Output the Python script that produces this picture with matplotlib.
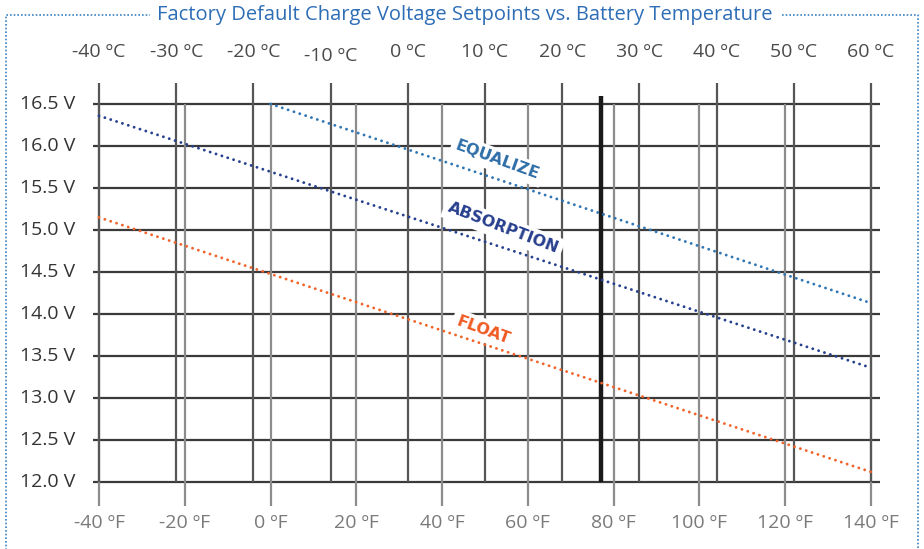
import matplotlib
matplotlib.use('Agg')
import matplotlib.pyplot as plt
import matplotlib.transforms as mtransforms
from matplotlib.lines import Line2D

plt.rcParams['font.family'] = ['Open Sans', 'DejaVu Sans']

title = "Factory Default Charge Voltage Setpoints vs. Battery Temperature"
f_ticks = [-40, -20, 0, 20, 40, 60, 80, 100, 120, 140]
c_ticks = [-40, -30, -20, -10, 0, 10, 20, 30, 40, 50, 60]
v_ticks = [12.0, 12.5, 13.0, 13.5, 14.0, 14.5, 15.0, 15.5, 16.0, 16.5]
ref_temp_f = 77

eq_temp = [0, 140]
eq_volt = [16.5, 14.13]
abs_temp = [-40, 140]
abs_volt = [16.36, 13.36]
float_temp = [-40, 140]
float_volt = [15.15, 12.12]

W, H = 924, 549
fig = plt.figure(figsize=(W / 100, H / 100), dpi=100)
fig.patch.set_facecolor('white')
x0, x1, y0, y1 = 99, 871, 104, 482
ax = fig.add_axes([x0 / W, 1 - y1 / H, (x1 - x0) / W, (y1 - y0) / H])
ax.set_xlim(-40, 140)
ax.set_ylim(12, 16.5)
ax.axis('off')

pxx = 180 / (x1 - x0)
pxy = 4.5 / (y1 - y0)

# grid
ax.hlines(v_ticks, -40 - 6 * pxx, 140 + 9 * pxx, colors='#3a3a3a', lw=1.6,
          clip_on=False, zorder=1)
ax.vlines(f_ticks, 12 - 24 * pxy, 16.5, colors='#8c8c8c', lw=1.6,
          clip_on=False, zorder=1)
c_as_f = [c * 1.8 + 32 for c in c_ticks]
ax.vlines(c_as_f, 12, 16.5 + 21 * pxy, colors='#565656', lw=1.6,
          clip_on=False, zorder=1)
ax.vlines([ref_temp_f], 12, 16.5 + 8 * pxy, colors='#1a1a1a', lw=3.2,
          clip_on=False, zorder=3)

# series
dot = (0, (0.01, 2.1))
ax.plot(eq_temp, eq_volt, color='#2f76b4', lw=2.1, linestyle=dot,
        dash_capstyle='round', zorder=5, clip_on=False)
ax.plot(abs_temp, abs_volt, color='#26408f', lw=2.1, linestyle=dot,
        dash_capstyle='round', zorder=5, clip_on=False)
ax.plot(float_temp, float_volt, color='#f2632a', lw=2.1, linestyle=dot,
        dash_capstyle='round', zorder=5, clip_on=False)

lab_kw = dict(fontsize=11.5, fontweight='bold', family=['DejaVu Sans'],
              ha='center', va='center', zorder=4,
              bbox=dict(facecolor='white', edgecolor='none', pad=3))
ax.text(52.8, 15.83, 'EQUALIZE', color='#2f6ea8', rotation=-20, **lab_kw)
ax.text(54.2, 15.02, 'ABSORPTION', color='#283f8e', rotation=-21, **lab_kw)
ax.text(49.5, 13.81, 'FLOAT', color='#f05a22', rotation=-20, **lab_kw)

# tick labels
tr = mtransforms.blended_transform_factory(ax.transData, fig.transFigure)
for c, f in zip(c_ticks, c_as_f):
    yy = 56 if c == -10 else 52
    ax.text(f, 1 - yy / H, f'{c} ºC', transform=tr, ha='center', va='center',
            fontsize=14, color='#4a4a4a')
for f in f_ticks:
    ax.text(f, 1 - 523 / H, f'{f} ºF', transform=tr, ha='center', va='center',
            fontsize=14, color='#7a7a7a')
trv = mtransforms.blended_transform_factory(fig.transFigure, ax.transData)
for v in v_ticks:
    ax.text(75 / W, v, f'{v:.1f} V', transform=trv, ha='right', va='center',
            fontsize=14, color='#333333')

# title and dotted frame
fig.text(465 / W, 1 - 15 / H, title, ha='center', va='center',
         fontsize=14.5, color='#2d6db5')
bc = '#3b82c4'
def fl(xs, ys):
    fig.add_artist(Line2D([x / W for x in xs], [1 - y / H for y in ys],
                          transform=fig.transFigure, color=bc, lw=1.2,
                          linestyle=(0, (1, 1.2))))
fl([6, 6, 150], [H + 2, 15, 15])
fl([782, 918, 918], [15, 15, H + 2])

fig.savefig('out.png', dpi=100, facecolor='white')
